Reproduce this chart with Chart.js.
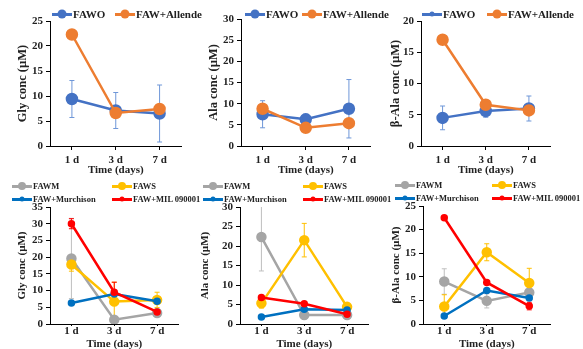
<!DOCTYPE html>
<html>
<head>
<meta charset="utf-8">
<script src="https://cdn.jsdelivr.net/npm/chart.js@4"></script>
<style>
    body { margin: 0; background: #fff; width: 583px; height: 349px; overflow: hidden; position: relative;
           font-family: 'Liberation Serif', 'Times New Roman', serif; font-weight: bold; }
    canvas { position: absolute; }
    .lg { position: absolute; white-space: nowrap; display: flex; align-items: center; height: 12px; color: #222; }
    .sw { position: relative; width: 20px; height: 3px; margin-right: 1px; flex: none; }
    .sw i { position: absolute; left: 50%; top: 50%; border-radius: 50%; transform: translate(-50%, -50%); }
</style>
</head>
<body>
<script>
// categories
const days = ['1 d', '3 d', '7 d'];

// top row: FAWO vs FAW+Allende
const glyFawo = [9.4, 7.1, 6.5];
const glyFawoErr = [3.7, 3.6, 5.7];
const glyAllende = [22.3, 6.6, 7.4];
const glyAllendeErr = [0.3, 0.5, 0.8];

const alaFawo = [7.5, 6.3, 8.8];
const alaFawoErr = [3.2, 1.2, 6.9];
const alaAllende = [8.8, 4.3, 5.4];
const alaAllendeErr = [1.0, 0.3, 0.5];

const bAlaFawo = [4.5, 5.6, 6.0];
const bAlaFawoErr = [1.9, 1.0, 2.0];
const bAlaAllende = [17.0, 6.6, 5.7];
const bAlaAllendeErr = [0.2, 0.3, 0.4];

// bottom row: FAWM, FAWS, FAW+Murchison, FAW+MIL 090001
const glyFawm = [19.6, 1.3, 3.3];
const glyFawmErr = [12.0, 0.8, 0.8];
const glyFaws = [17.8, 6.7, 7.2];
const glyFawsErr = [2.0, 5.8, 2.3];
const glyMurch = [6.3, 9.0, 6.8];
const glyMurchErr = [0.3, 0.5, 0.5];
const glyMil = [30.0, 9.5, 3.6];
const glyMilErr = [1.5, 3.0, 0.5];

const alaFawm = [22.3, 2.3, 2.3];
const alaFawmErr = [8.7, 0.3, 0.3];
const alaFaws = [5.3, 21.5, 4.4];
const alaFawsErr = [1.2, 4.3, 0.5];
const alaMurch = [1.8, 3.8, 3.6];
const alaMurchErr = [0.2, 0.3, 0.3];
const alaMil = [6.8, 5.2, 2.5];
const alaMilErr = [0.3, 0.3, 0.3];

const bAlaFawm = [9.0, 4.9, 6.7];
const bAlaFawmErr = [2.7, 1.5, 0.8];
const bAlaFaws = [3.7, 15.2, 8.7];
const bAlaFawsErr = [2.5, 1.8, 3.1];
const bAlaMurch = [1.7, 7.1, 5.5];
const bAlaMurchErr = [0.2, 0.4, 0.4];
const bAlaMil = [22.5, 8.8, 3.8];
const bAlaMilErr = [0.3, 0.4, 0.8];

const BLUE = '#4472C4', ORANGE = '#ED7D31';
const GRAY = '#A5A5A5', YELLOW = '#FFC000', DBLUE = '#0070C0', RED = '#FF0000';
const FONT = "'Liberation Serif', 'Times New Roman', serif";

// draws +/- error whiskers through the y scale
const errorBars = {
    id: 'errorBars',
    beforeDatasetsDraw(chart) {
        const ctx = chart.ctx;
        const y = chart.scales.y;
        chart.data.datasets.forEach((ds, i) => {
            if (!ds.errors) return;
            const meta = chart.getDatasetMeta(i);
            ctx.save();
            ctx.strokeStyle = ds.errorColor || ds.borderColor;
            ctx.lineWidth = 1;
            meta.data.forEach((pt, j) => {
                const e = ds.errors[j];
                if (!e) return;
                const hi = Math.min(ds.data[j] + e, y.max);
                const lo = Math.max(ds.data[j] - e, y.min);
                const top = y.getPixelForValue(hi), bot = y.getPixelForValue(lo);
                ctx.beginPath();
                ctx.moveTo(pt.x, top); ctx.lineTo(pt.x, bot);
                if (hi < y.max) { ctx.moveTo(pt.x - 2.5, top); ctx.lineTo(pt.x + 2.5, top); }
                ctx.moveTo(pt.x - 2.5, bot); ctx.lineTo(pt.x + 2.5, bot);
                ctx.stroke();
            });
            ctx.restore();
        });
    }
};

function series(label, data, errors, color, radius, width, order, errColor) {
    return {
        label, data, errors, order,
        errorColor: errColor || color,
        borderColor: color,
        backgroundColor: color,
        pointBackgroundColor: color,
        pointBorderColor: color,
        pointRadius: radius,
        borderWidth: width,
        tension: 0
    };
}

function makePanel(p) {
    const rowTop = p.row === 0 ? 0 : 170;
    const rowH = p.row === 0 ? 177 : 179;
    const left = p.axisLeft - 50;
    const canvas = document.createElement('canvas');
    canvas.style.left = left + 'px';
    canvas.style.top = rowTop + 'px';
    canvas.style.width = (p.axisRight - left) + 'px';
    canvas.style.height = rowH + 'px';
    canvas.width = p.axisRight - left;
    canvas.height = rowH;
    document.body.appendChild(canvas);

    const titleSize = p.row === 0 ? 12.5 : 11;
    const xHeight = rowH - (p.plotBottom - rowTop);

    new Chart(canvas, {
        type: 'line',
        data: { labels: days, datasets: p.datasets },
        plugins: [errorBars],
        options: {
            responsive: false,
            animation: false,
            layout: { padding: { top: p.plotTop - rowTop, left: 0, right: 0, bottom: 0 } },
            plugins: { legend: { display: false }, tooltip: { enabled: false } },
            scales: {
                x: {
                    offset: true,
                    afterFit: (s) => { s.height = xHeight; },
                    grid: { drawOnChartArea: false, color: '#000', tickLength: p.row === 0 ? 4 : 2 },
                    border: { color: '#000', width: 1 },
                    ticks: { color: '#222', padding: p.row === 0 ? 4 : -1,
                             font: { family: FONT, size: 11, weight: 'bold' } },
                    title: { display: true, text: 'Time (days)', color: '#222',
                             padding: { top: 0, bottom: p.row === 0 ? 0 : -2 },
                             font: { family: FONT, size: 11, weight: 'bold' } }
                },
                y: {
                    min: 0, max: p.yMax,
                    afterFit: (s) => { s.width = 50; },
                    grid: { drawOnChartArea: false, color: '#000', tickLength: 4 },
                    border: { color: '#000', width: 1 },
                    ticks: { stepSize: 5, color: '#222', padding: 3,
                             font: { family: FONT, size: 11, weight: 'bold' } },
                    title: { display: true, text: p.yTitle, color: '#222',
                             padding: { top: 50 - p.titleD - titleSize * 0.6, bottom: 0 },
                             font: { family: FONT, size: titleSize, weight: 'bold' } }
                }
            }
        }
    });
}

function legendItem(x, y, text, color, dot, size) {
    const d = document.createElement('div');
    d.className = 'lg';
    d.style.left = x + 'px';
    d.style.top = (y - 6) + 'px';
    d.style.fontSize = size + 'px';
    d.innerHTML = `<span class="sw" style="background:${color}"><i style="width:${dot}px;height:${dot}px;background:${color}"></i></span>${text}`;
    document.body.appendChild(d);
}

// top row
makePanel({ row: 0, axisLeft: 50, axisRight: 189, plotTop: 21, plotBottom: 146, yMax: 25, titleD: 27,
    yTitle: 'Gly conc (µM)',
    datasets: [series('FAW+Allende', glyAllende, glyAllendeErr, ORANGE, 5, 2.5, 0),
               series('FAWO', glyFawo, glyFawoErr, BLUE, 5, 2.5, 1, '#6F97D8')] });
makePanel({ row: 0, axisLeft: 241, axisRight: 378, plotTop: 19, plotBottom: 146, yMax: 30, titleD: 27,
    yTitle: 'Ala conc (µM)',
    datasets: [series('FAW+Allende', alaAllende, alaAllendeErr, ORANGE, 5, 2.5, 0),
               series('FAWO', alaFawo, alaFawoErr, BLUE, 5, 2.5, 1, '#6F97D8')] });
makePanel({ row: 0, axisLeft: 421, axisRight: 558, plotTop: 21, plotBottom: 146, yMax: 20, titleD: 25,
    yTitle: 'β-Ala conc (µM)',
    datasets: [series('FAW+Allende', bAlaAllende, bAlaAllendeErr, ORANGE, 5, 2.5, 0),
               series('FAWO', bAlaFawo, bAlaFawoErr, BLUE, 5, 2.5, 1, '#6F97D8')] });

// bottom row
function bottomSets(fawm, fawmE, faws, fawsE, murch, murchE, mil, milE) {
    return [series('FAWM', fawm, fawmE, GRAY, 4, 2.5, 3, '#BFBFBF'),
            series('FAWS', faws, fawsE, YELLOW, 4, 2.5, 2),
            series('FAW+Murchison', murch, murchE, DBLUE, 2.5, 2.5, 1),
            series('FAW+MIL 090001', mil, milE, RED, 2.5, 2.5, 0)];
}
makePanel({ row: 1, axisLeft: 50, axisRight: 185, plotTop: 207, plotBottom: 324, yMax: 35, titleD: 28,
    yTitle: 'Gly conc (µM)',
    datasets: bottomSets(glyFawm, glyFawmErr, glyFaws, glyFawsErr, glyMurch, glyMurchErr, glyMil, glyMilErr) });
makePanel({ row: 1, axisLeft: 240, axisRight: 375, plotTop: 207, plotBottom: 324, yMax: 30, titleD: 35,
    yTitle: 'Ala conc (µM)',
    datasets: bottomSets(alaFawm, alaFawmErr, alaFaws, alaFawsErr, alaMurch, alaMurchErr, alaMil, alaMilErr) });
makePanel({ row: 1, axisLeft: 423, axisRight: 557, plotTop: 206, plotBottom: 324, yMax: 25, titleD: 27,
    yTitle: 'β-Ala conc (µM)',
    datasets: bottomSets(bAlaFawm, bAlaFawmErr, bAlaFaws, bAlaFawsErr, bAlaMurch, bAlaMurchErr, bAlaMil, bAlaMilErr) });

// legends
legendItem(52, 14, 'FAWO', BLUE, 9, 11);
legendItem(115, 14, 'FAW+Allende', ORANGE, 9, 11);
legendItem(245, 14, 'FAWO', BLUE, 9, 11);
legendItem(302, 14, 'FAW+Allende', ORANGE, 9, 11);
legendItem(422, 14, 'FAWO', BLUE, 5, 11);
legendItem(487, 14, 'FAW+Allende', ORANGE, 9, 11);

[[12, 112, 186, 199], [203, 303, 186, 199], [395, 492, 185, 198]].forEach(([c1, c2, r1, r2]) => {
    legendItem(c1, r1, 'FAWM', GRAY, 8, 8.5);
    legendItem(c2, r1, 'FAWS', YELLOW, 8, 8.5);
    legendItem(c1, r2, 'FAW+Murchison', DBLUE, 5, 8.5);
    legendItem(c2, r2, 'FAW+MIL 090001', RED, 5, 8.5);
});
</script>
</body>
</html>
